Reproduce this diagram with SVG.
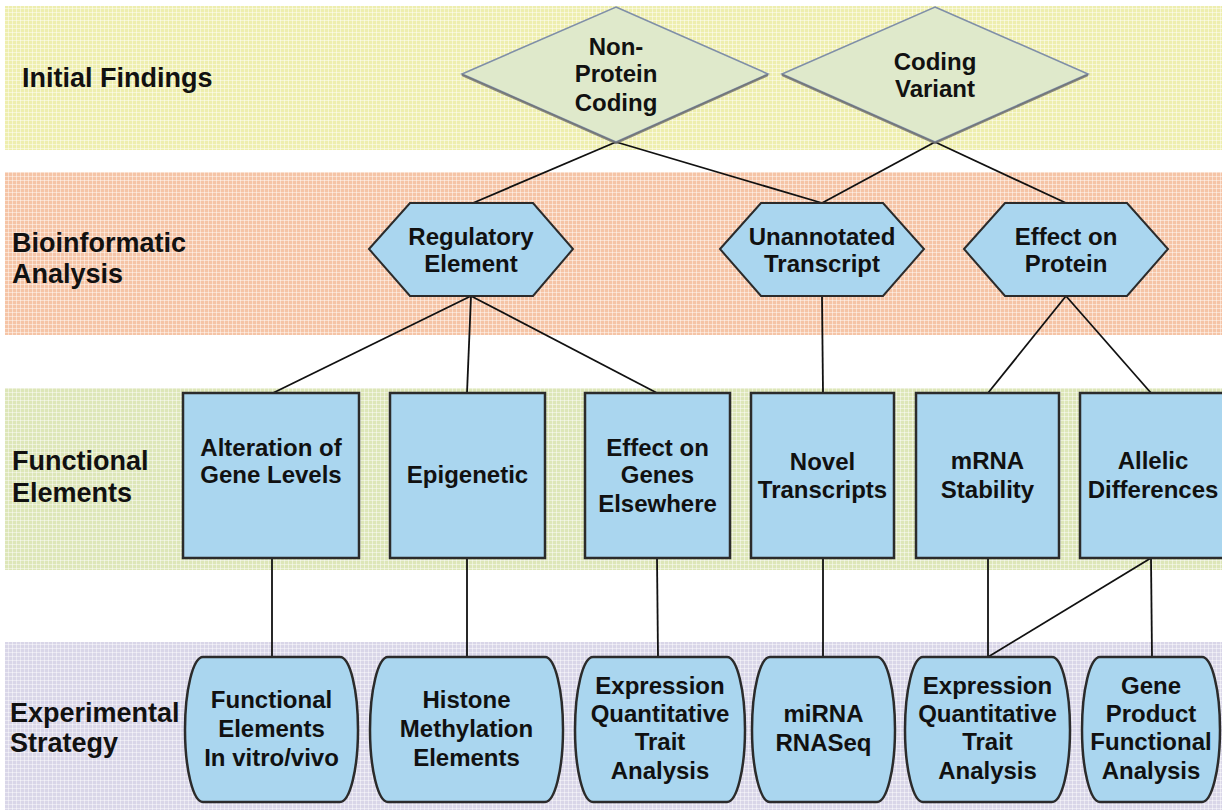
<svg xmlns="http://www.w3.org/2000/svg" width="1222" height="810" viewBox="0 0 1222 810">
<defs>
<pattern id="grid" width="4" height="4" patternUnits="userSpaceOnUse">
<path d="M0 0.5H4M0.5 0V4" stroke="#ffffff" stroke-opacity="0.45" stroke-width="1" fill="none"/>
</pattern>
<style>
.lbl{font-family:"Liberation Sans",Arial,sans-serif;font-weight:bold;font-size:27px;fill:#111}
.t{font-family:"Liberation Sans",Arial,sans-serif;font-weight:bold;font-size:24px;fill:#111;text-anchor:middle}
.box{fill:#aad6ef;stroke:#2b2b2b;stroke-width:2.5}
.hex{fill:#aad6ef;stroke:#2b2b2b;stroke-width:2}
.dia{fill:#dfe9cb;stroke:#7f8fa8;stroke-width:1.6}
.dsh{fill:none;stroke:#6b6b6b;stroke-width:2.2;stroke-opacity:0.8}
.con{stroke:#111;stroke-width:1.8;fill:none}
</style>
</defs>
<rect width="1222" height="810" fill="#ffffff"/>
<g id="bands">
<rect x="5" y="6" width="1217" height="144" fill="#eeeeae"/>
<rect x="5" y="172" width="1217" height="163" fill="#f5c4a6"/>
<rect x="5" y="388" width="1217" height="182" fill="#dde6b8"/>
<rect x="5" y="642" width="1217" height="168" fill="#d9d6e8"/>
<rect x="5" y="6" width="1217" height="144" fill="url(#grid)"/>
<rect x="5" y="172" width="1217" height="163" fill="url(#grid)"/>
<rect x="5" y="388" width="1217" height="182" fill="url(#grid)"/>
<rect x="5" y="642" width="1217" height="168" fill="url(#grid)"/>
</g>
<g id="row-labels">
<text class="lbl" x="22" y="87">Initial Findings</text>
<text class="lbl" x="12" y="252">Bioinformatic</text>
<text class="lbl" x="12" y="283">Analysis</text>
<text class="lbl" x="12" y="470">Functional</text>
<text class="lbl" x="12" y="502">Elements</text>
<text class="lbl" x="10" y="722">Experimental</text>
<text class="lbl" x="10" y="752">Strategy</text>
</g>
<g id="connectors">
<line class="con" x1="616" y1="142" x2="473" y2="203"/>
<line class="con" x1="616" y1="142" x2="822" y2="203"/>
<line class="con" x1="935" y1="142" x2="822" y2="203"/>
<line class="con" x1="935" y1="142" x2="1066" y2="203"/>
<line class="con" x1="471" y1="296" x2="273" y2="393"/>
<line class="con" x1="471" y1="296" x2="467" y2="393"/>
<line class="con" x1="471" y1="296" x2="657" y2="393"/>
<line class="con" x1="822" y1="296" x2="823" y2="393"/>
<line class="con" x1="1066" y1="296" x2="988" y2="393"/>
<line class="con" x1="1066" y1="296" x2="1151" y2="393"/>
<line class="con" x1="272" y1="558" x2="272" y2="657"/>
<line class="con" x1="467" y1="558" x2="467" y2="657"/>
<line class="con" x1="657" y1="558" x2="658" y2="657"/>
<line class="con" x1="823" y1="558" x2="823" y2="657"/>
<line class="con" x1="988" y1="558" x2="988" y2="657"/>
<line class="con" x1="1151" y1="558" x2="988" y2="657"/>
<line class="con" x1="1151" y1="558" x2="1152" y2="657"/>
</g>
<g id="non-protein-coding">
<polygon class="dia" points="616,7 768,74 616,142 462,74"/>
<polyline class="dsh" points="462,75 616,143 768,75"/>
<text class="t" x="616" y="55">Non-</text>
<text class="t" x="616" y="82">Protein</text>
<text class="t" x="616" y="111">Coding</text>
</g>
<g id="coding-variant">
<polygon class="dia" points="935,7 1088,74 935,142 782,74"/>
<polyline class="dsh" points="782,75 935,143 1088,75"/>
<text class="t" x="935" y="70">Coding</text>
<text class="t" x="935" y="97">Variant</text>
</g>
<g id="regulatory-element">
<polygon class="hex" points="369,249 410,203 533,203 573,249 533,296 410,296"/>
<text class="t" x="471" y="245">Regulatory</text>
<text class="t" x="471" y="272">Element</text>
</g>
<g id="unannotated-transcript">
<polygon class="hex" points="720,249 761,203 883,203 924,249 883,296 761,296"/>
<text class="t" x="822" y="245">Unannotated</text>
<text class="t" x="822" y="272">Transcript</text>
</g>
<g id="effect-on-protein">
<polygon class="hex" points="964,249 1005,203 1127,203 1168,249 1127,296 1005,296"/>
<text class="t" x="1066" y="245">Effect on</text>
<text class="t" x="1066" y="272">Protein</text>
</g>
<g id="alteration-gene-levels">
<rect class="box" x="183" y="393" width="176" height="165"/>
<text class="t" x="271" y="456">Alteration of</text>
<text class="t" x="271" y="483">Gene Levels</text>
</g>
<g id="epigenetic">
<rect class="box" x="390" y="393" width="155" height="165"/>
<text class="t" x="467.5" y="483">Epigenetic</text>
</g>
<g id="effect-on-genes-elsewhere">
<rect class="box" x="585" y="393" width="145" height="165"/>
<text class="t" x="657.5" y="456">Effect on</text>
<text class="t" x="657.5" y="483">Genes</text>
<text class="t" x="657.5" y="512">Elsewhere</text>
</g>
<g id="novel-transcripts">
<rect class="box" x="751" y="393" width="143" height="165"/>
<text class="t" x="822.5" y="470">Novel</text>
<text class="t" x="822.5" y="498">Transcripts</text>
</g>
<g id="mrna-stability">
<rect class="box" x="916" y="393" width="143" height="165"/>
<text class="t" x="987.5" y="469">mRNA</text>
<text class="t" x="987.5" y="498">Stability</text>
</g>
<g id="allelic-differences">
<rect class="box" x="1080" y="393" width="146" height="165"/>
<text class="t" x="1153" y="469">Allelic</text>
<text class="t" x="1153" y="498">Differences</text>
</g>
<g id="functional-elements-in-vitro">
<path class="box" d="M203,657 H340 C350,657 358,690 358,729.5 C358,769 350,802 340,802 H203 C193,802 185,769 185,729.5 C185,690 193,657 203,657 Z"/>
<text class="t" x="271.5" y="708">Functional</text>
<text class="t" x="271.5" y="737">Elements</text>
<text class="t" x="271.5" y="766">In vitro/vivo</text>
</g>
<g id="histone-methylation">
<path class="box" d="M388,657 H545 C555,657 563,690 563,729.5 C563,769 555,802 545,802 H388 C378,802 370,769 370,729.5 C370,690 378,657 388,657 Z"/>
<text class="t" x="466.5" y="708">Histone</text>
<text class="t" x="466.5" y="737">Methylation</text>
<text class="t" x="466.5" y="766">Elements</text>
</g>
<g id="eqtl-1">
<path class="box" d="M593,657 H727 C737,657 745,690 745,729.5 C745,769 737,802 727,802 H593 C583,802 575,769 575,729.5 C575,690 583,657 593,657 Z"/>
<text class="t" x="660" y="694">Expression</text>
<text class="t" x="660" y="722">Quantitative</text>
<text class="t" x="660" y="750">Trait</text>
<text class="t" x="660" y="779">Analysis</text>
</g>
<g id="mirna-rnaseq">
<path class="box" d="M770,657 H877 C887,657 895,690 895,729.5 C895,769 887,802 877,802 H770 C760,802 752,769 752,729.5 C752,690 760,657 770,657 Z"/>
<text class="t" x="823.5" y="722">miRNA</text>
<text class="t" x="823.5" y="751">RNASeq</text>
</g>
<g id="eqtl-2">
<path class="box" d="M923,657 H1052 C1062,657 1070,690 1070,729.5 C1070,769 1062,802 1052,802 H923 C913,802 905,769 905,729.5 C905,690 913,657 923,657 Z"/>
<text class="t" x="987.5" y="694">Expression</text>
<text class="t" x="987.5" y="722">Quantitative</text>
<text class="t" x="987.5" y="750">Trait</text>
<text class="t" x="987.5" y="779">Analysis</text>
</g>
<g id="gene-product-functional-analysis">
<path class="box" d="M1100,657 H1202 C1212,657 1220,690 1220,729.5 C1220,769 1212,802 1202,802 H1100 C1090,802 1082,769 1082,729.5 C1082,690 1090,657 1100,657 Z"/>
<text class="t" x="1151" y="694">Gene</text>
<text class="t" x="1151" y="722">Product</text>
<text class="t" x="1151" y="750">Functional</text>
<text class="t" x="1151" y="779">Analysis</text>
</g>
</svg>
